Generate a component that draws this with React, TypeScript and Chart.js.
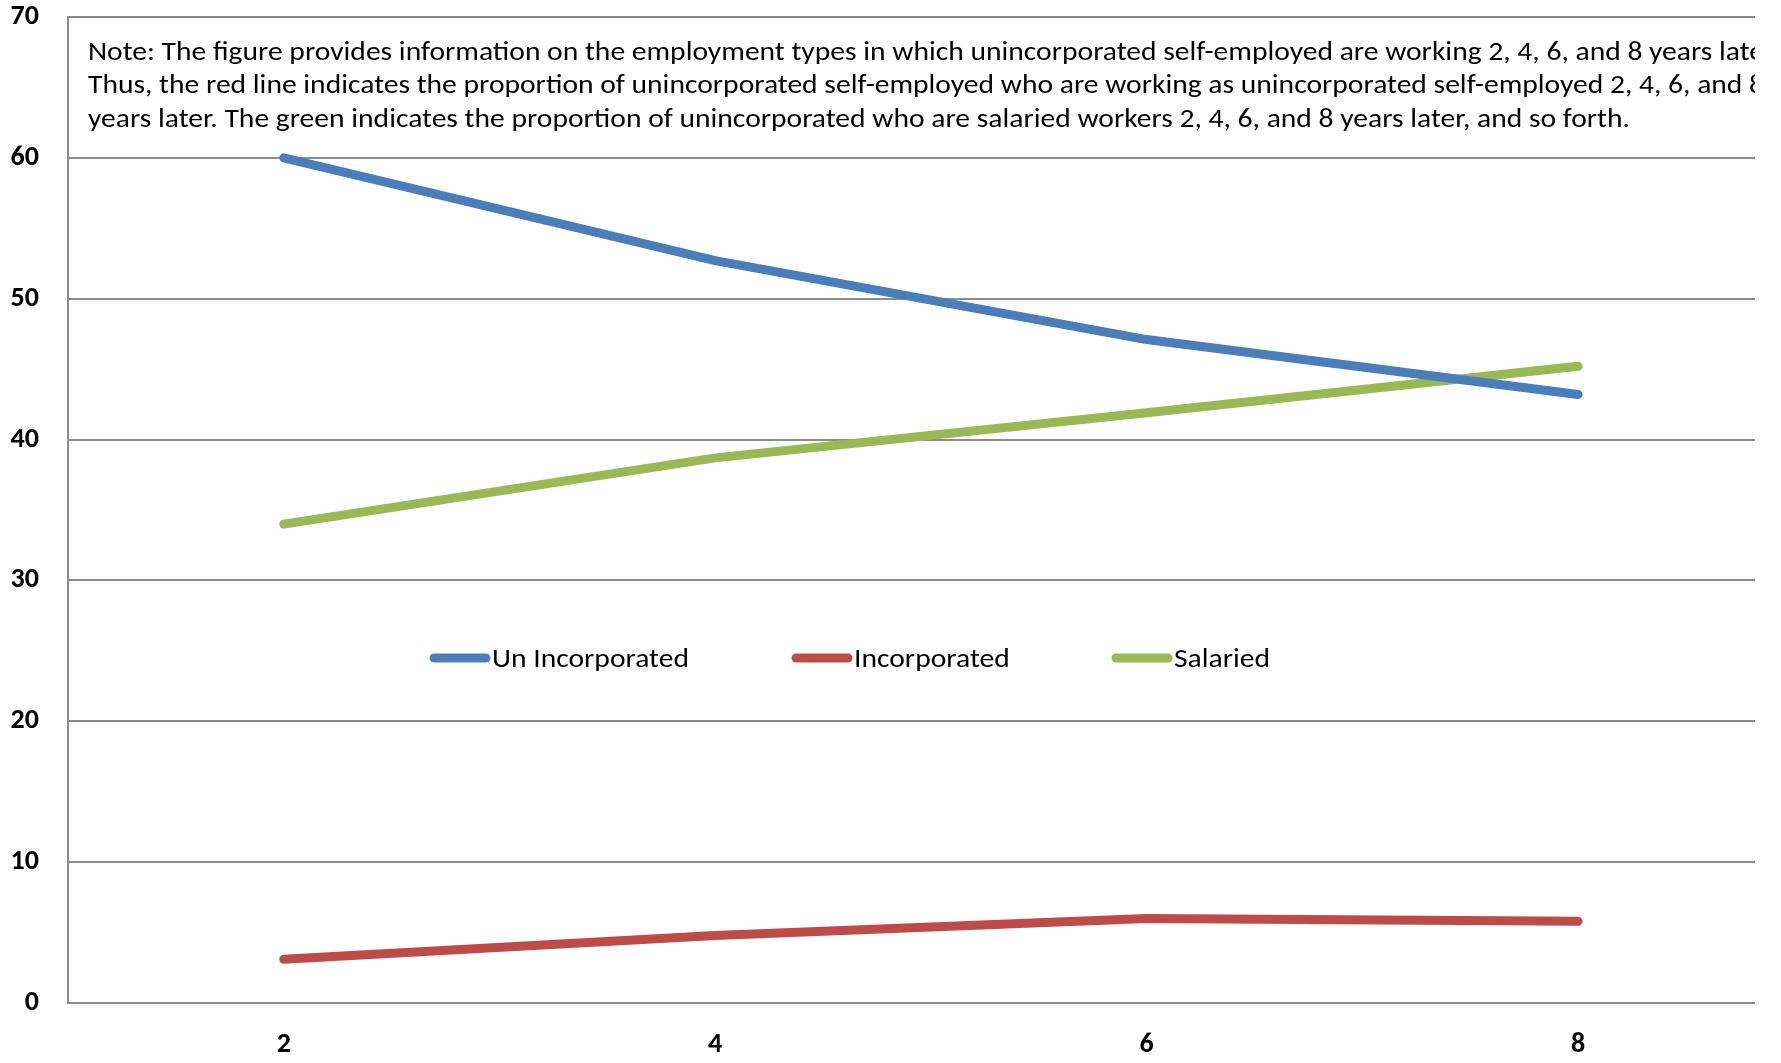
import React, { useEffect, useRef } from "react";
import { Chart, registerables } from "chart.js";

Chart.register(...registerables);

const categories = ["2", "4", "6", "8"];
const unIncorporated = [60.0, 52.7, 47.1, 43.2];
const incorporated = [3.1, 4.8, 6.0, 5.8];
const salaried = [34.0, 38.7, 41.9, 45.2];
const seriesNames = ["Un Incorporated", "Incorporated", "Salaried"];
const yTickValues = [0, 10, 20, 30, 40, 50, 60, 70];
const noteLines = [
  "Note: The figure provides information on the employment types in which unincorporated self-employed are working 2, 4, 6, and 8 years later.",
  "Thus, the red line indicates the proportion of unincorporated self-employed who are working as unincorporated self-employed 2, 4, 6, and 8",
  "years later. The green indicates the proportion of unincorporated who are salaried workers 2, 4, 6, and 8 years later, and so forth.",
];

const FONT = "Carlito, Lato, sans-serif";
const COLORS = ["#4A7EBB", "#BE4B48", "#98B954"];
const TEXT_SIZE = 25.8;

const notePlugin = {
  id: "notePlugin",
  afterDraw(chart: any) {
    const ctx = chart.ctx;
    const area = chart.chartArea;
    ctx.save();
    ctx.beginPath();
    ctx.rect(area.left, 0, area.right - area.left, chart.height);
    ctx.clip();
    ctx.font = `${TEXT_SIZE}px ${FONT}`;
    const w = ctx.measureText(noteLines[2]).width;
    const sx = 1542 / w;
    ctx.fillStyle = "#000";
    ctx.textBaseline = "alphabetic";
    ctx.textAlign = "left";
    noteLines.forEach((line, i) => {
      ctx.save();
      ctx.translate(area.left + 20, area.top + 43 + i * 33.3);
      ctx.scale(sx, 1);
      ctx.fillText(line, 0, 0);
      ctx.restore();
    });
    // legend
    const legendX = [434, 796, 1116];
    const ly = 658;
    chart.data.datasets.forEach((ds: any, i: number) => {
      ctx.strokeStyle = ds.borderColor;
      ctx.lineWidth = 9;
      ctx.lineCap = "round";
      ctx.beginPath();
      ctx.moveTo(legendX[i], ly);
      ctx.lineTo(legendX[i] + 52, ly);
      ctx.stroke();
      ctx.fillStyle = "#000";
      ctx.save();
      ctx.translate(legendX[i] + 58, ly + 9);
      ctx.scale(sx, 1);
      ctx.fillText(ds.label, 0, 0);
      ctx.restore();
    });
    ctx.restore();
  },
};

export default function App() {
  const ref = useRef<HTMLCanvasElement | null>(null);
  useEffect(() => {
    document.body.style.margin = "0";
    const cv = ref.current!;
    const datasets = [unIncorporated, incorporated, salaried].map((vals, i) => ({
      label: seriesNames[i],
      data: categories.map((c, j) => ({ x: Number(c), y: vals[j] })),
      borderColor: COLORS[i],
      backgroundColor: COLORS[i],
      borderWidth: 9,
      borderCapStyle: "round" as const,
      borderJoinStyle: "round" as const,
      pointRadius: 0,
      tension: 0,
    }));
    const chart = new Chart(cv, {
      type: "line",
      data: { datasets },
      options: {
        animation: false,
        responsive: false,
        devicePixelRatio: 1,
        layout: { padding: { top: 17, right: 26, left: 0, bottom: 0 } },
        plugins: { legend: { display: false }, tooltip: { enabled: false } },
        scales: {
          x: {
            type: "linear",
            min: 1,
            max: 8.82,
            afterBuildTicks: (s: any) => {
              s.ticks = categories.map((c) => ({ value: Number(c) }));
            },
            afterFit: (s: any) => {
              s.height = 60;
              s.paddingLeft = 0;
              s.paddingRight = 0;
            },
            grid: { display: false, drawTicks: false },
            border: { display: false },
            ticks: {
              padding: 25,
              color: "#000",
              font: { family: FONT, size: 28, weight: "bold" },
              callback: (v: any) => String(v),
            },
          },
          y: {
            min: 0,
            max: 70,
            afterBuildTicks: (s: any) => {
              s.ticks = yTickValues.map((v) => ({ value: v }));
            },
            afterFit: (s: any) => {
              s.width = 68;
              s.paddingTop = 0;
              s.paddingBottom = 0;
            },
            grid: { color: "#8c8c8c", lineWidth: 2, drawTicks: false },
            border: { display: true, color: "#8c8c8c", width: 2 },
            ticks: {
              padding: 29,
              color: "#000",
              font: { family: FONT, size: 28, weight: "bold" },
            },
          },
        },
      },
      plugins: [notePlugin],
    });
    return () => chart.destroy();
  }, []);
  return (
    <div style={{ position: "fixed", left: 0, top: 0, width: 1781, height: 1063, background: "#fff" }}>
      <canvas ref={ref} width={1781} height={1063} style={{ width: 1781, height: 1063 }} />
    </div>
  );
}
